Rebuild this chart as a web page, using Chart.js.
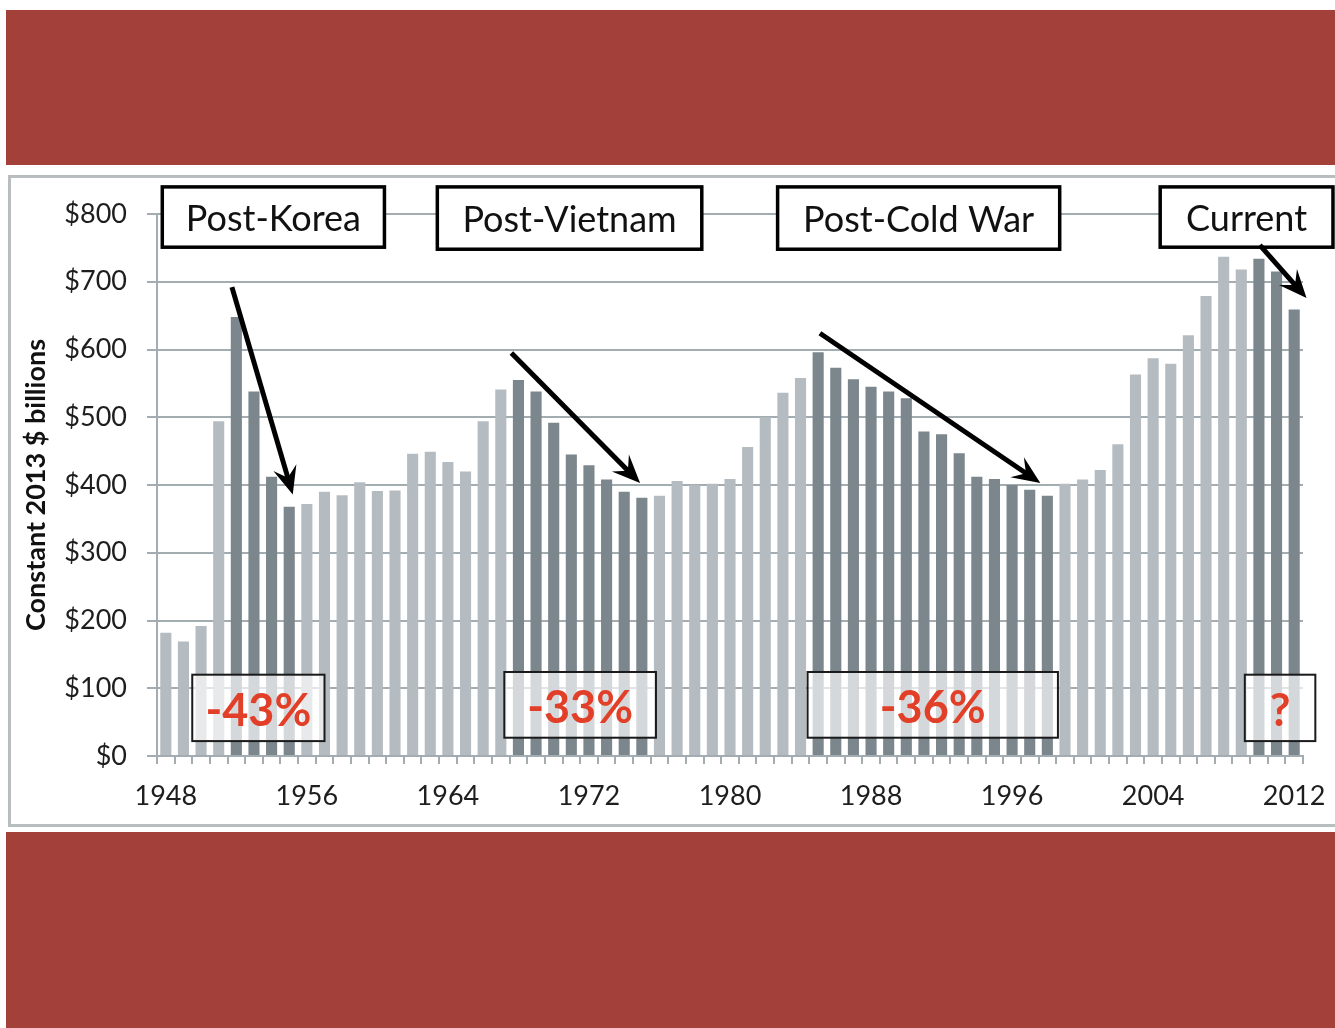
<!DOCTYPE html>
<html>
<head>
<meta charset="utf-8">
<title>Defense spending drawdowns</title>
<script src="https://cdn.jsdelivr.net/npm/chart.js@4"></script>
<style>
  html, body { margin: 0; padding: 0; background: #fff; }
  body { width: 1335px; height: 1028px; position: relative; overflow: hidden; }
  .band { position: absolute; left: 6px; right: 0; background: #a3403a; }
  .band.top { top: 10px; height: 155px; }
  .band.bottom { top: 832px; height: 196px; }
  .panel {
    position: absolute; left: 8px; top: 175px; width: 1340px; height: 646px;
    border: 3px solid #b8bdc0; background: #fff;
  }
  #chart { position: absolute; left: 0; top: 170px; }
</style>
</head>
<body>
<div class="band top"></div>
<div class="panel"></div>
<canvas id="chart" width="1335" height="660"></canvas>
<div class="band bottom"></div>

<script>
/* ================================
   Data (constant 2013 $ billions)
================================ */
const years = [
  '1948', '1949', '1950', '1951', '1952', '1953', '1954', '1955', '1956', '1957',
  '1958', '1959', '1960', '1961', '1962', '1963', '1964', '1965', '1966', '1967',
  '1968', '1969', '1970', '1971', '1972', '1973', '1974', '1975', '1976', '1977',
  '1978', '1979', '1980', '1981', '1982', '1983', '1984', '1985', '1986', '1987',
  '1988', '1989', '1990', '1991', '1992', '1993', '1994', '1995', '1996', '1997',
  '1998', '1999', '2000', '2001', '2002', '2003', '2004', '2005', '2006', '2007',
  '2008', '2009', '2010', '2011', '2012'
];

const spending = [
  182, 169, 192, 494, 648, 538, 412, 368, 372, 390,
  385, 404, 391, 392, 446, 449, 434, 420, 494, 541,
  555, 538, 492, 445, 429, 408, 390, 381, 384, 406,
  400, 402, 409, 456, 500, 536, 558, 596, 573, 556,
  545, 538, 528, 479, 475, 447, 412, 409, 400, 393,
  384, 402, 408, 422, 460, 563, 587, 579, 621, 679,
  737, 718, 734, 715, 659
];

// drawdown periods (dark bars)
const drawdownStart = [1952, 1968, 1985, 2010];
const drawdownEnd = [1955, 1975, 1998, 2012];
const periodLabels = ['Post-Korea', 'Post-Vietnam', 'Post-Cold War', 'Current'];
const cutLabels = ['-43%', '-33%', '-36%', '?'];

const yTicks = [0, 100, 200, 300, 400, 500, 600, 700, 800];
const labelEvery = 8;

/* ================================
   Styling
================================ */
const LIGHT = '#b4bcc1';
const DARK = '#7b868d';
const GRID = '#a3acb1';
const FONT = 'Lato, "Open Sans", sans-serif';

const barColors = years.map(y => {
  const yr = Number(y);
  const inDrawdown = drawdownStart.some((s, i) => yr >= s && yr <= drawdownEnd[i]);
  return inDrawdown ? DARK : LIGHT;
});

// annotation layout, in axis units (year, $ billions)
const periodBoxes = [
  { x0: 1947.8, x1: 1960.4, y0: 840, y1: 751 },
  { x0: 1963.4, x1: 1978.4, y0: 840, y1: 748 },
  { x0: 1982.7, x1: 1998.7, y0: 840, y1: 748 },
  { x0: 2004.4, x1: 2014.2, y0: 840, y1: 751 }
];
const cutBoxes = [
  { x0: 1949.5, x1: 1957.0, y0: 120, y1: 22 },
  { x0: 1967.2, x1: 1975.8, y0: 124, y1: 27 },
  { x0: 1984.4, x1: 1998.6, y0: 124, y1: 27 },
  { x0: 2009.2, x1: 2013.2, y0: 120, y1: 22 }
];
const arrows = [
  { from: [1951.75, 692], to: [1955.2, 386] },
  { from: [1967.6, 595], to: [1974.9, 403] },
  { from: [1985.1, 624], to: [1997.6, 403] },
  { from: [2010.05, 754], to: [2012.7, 676] }
];

/* ================================
   Annotation plugin
================================ */
function drawArrow(ctx, x1, y1, x2, y2) {
  const ang = Math.atan2(y2 - y1, x2 - x1);
  const head = 28, half = 12;
  ctx.save();
  ctx.strokeStyle = '#000';
  ctx.fillStyle = '#000';
  ctx.lineWidth = 5;
  ctx.lineCap = 'butt';
  ctx.beginPath();
  ctx.moveTo(x1, y1);
  ctx.lineTo(x2 - Math.cos(ang) * head * 0.6, y2 - Math.sin(ang) * head * 0.6);
  ctx.stroke();
  ctx.translate(x2, y2);
  ctx.rotate(ang);
  ctx.beginPath();
  ctx.moveTo(0, 0);
  ctx.lineTo(-head, -half);
  ctx.lineTo(-head * 0.62, 0);
  ctx.lineTo(-head, half);
  ctx.closePath();
  ctx.fill();
  ctx.restore();
}

const annotationPlugin = {
  id: 'drawdownNotes',
  afterDatasetsDraw(chart) {
    const { ctx, scales: { x, y } } = chart;
    const p0 = x.getPixelForValue(0);
    const step = x.getPixelForValue(1) - p0;
    const px = yr => p0 + (yr - Number(years[0])) * step;
    const py = v => y.getPixelForValue(v);

    ctx.save();
    ctx.textAlign = 'center';
    ctx.textBaseline = 'middle';

    // percent boxes
    cutBoxes.forEach((b, i) => {
      const l = px(b.x0), r = px(b.x1), t = py(b.y0), btm = py(b.y1);
      ctx.fillStyle = 'rgba(255,255,255,0.68)';
      ctx.fillRect(l, t, r - l, btm - t);
      ctx.strokeStyle = '#1a1a1a';
      ctx.lineWidth = 2;
      ctx.strokeRect(l, t, r - l, btm - t);
      ctx.fillStyle = '#e23f29';
      ctx.font = 'bold 45px ' + FONT;
      ctx.fillText(cutLabels[i], (l + r) / 2, (t + btm) / 2 + 4);
    });

    // period boxes
    periodBoxes.forEach((b, i) => {
      const l = px(b.x0), r = px(b.x1), t = py(b.y0), btm = py(b.y1);
      ctx.fillStyle = '#fff';
      ctx.fillRect(l, t, r - l, btm - t);
      ctx.strokeStyle = '#000';
      ctx.lineWidth = 3.5;
      ctx.strokeRect(l, t, r - l, btm - t);
      ctx.fillStyle = '#111';
      ctx.font = '36px ' + FONT;
      ctx.fillText(periodLabels[i], (l + r) / 2, (t + btm) / 2 + 2);
    });

    arrows.forEach(a => {
      drawArrow(ctx, px(a.from[0]), py(a.from[1]), px(a.to[0]), py(a.to[1]));
    });
    ctx.restore();
  }
};

/* ================================
   Chart
================================ */
new Chart(document.getElementById('chart').getContext('2d'), {
  type: 'bar',
  data: {
    labels: years,
    datasets: [{
      label: 'Defense spending',
      data: spending,
      backgroundColor: barColors,
      barPercentage: 0.63,
      categoryPercentage: 1
    }]
  },
  options: {
    responsive: false,
    animation: false,
    layout: { padding: { top: 44, right: 32, left: 0, bottom: 0 } },
    plugins: {
      legend: { display: false },
      tooltip: { enabled: false }
    },
    scales: {
      x: {
        afterFit: s => {
          s.height = 74;
          s.paddingLeft = 0;
          s.paddingRight = 0;
        },
        border: { display: true, color: GRID, width: 2 },
        grid: {
          offset: true,
          drawOnChartArea: false,
          drawTicks: true,
          tickLength: 8,
          color: GRID,
          lineWidth: 2
        },
        ticks: {
          autoSkip: false,
          maxRotation: 0,
          padding: 16,
          color: '#1e1e1e',
          font: { family: FONT, size: 27 },
          callback: (v, i) => (i % labelEvery === 0 ? years[i] : '')
        }
      },
      y: {
        min: yTicks[0],
        max: yTicks[yTicks.length - 1],
        afterFit: s => { s.width = 157; },
        afterBuildTicks: s => { s.ticks = yTicks.map(v => ({ value: v })); },
        border: { display: true, color: GRID, width: 2 },
        grid: { color: GRID, lineWidth: 2, tickLength: 10 },
        ticks: {
          padding: 20,
          color: '#1e1e1e',
          font: { family: FONT, size: 27 },
          callback: v => '$' + v
        },
        title: {
          display: true,
          text: 'Constant 2013 $ billions',
          color: '#111',
          font: { family: FONT, size: 27, weight: 'bold' },
          padding: { top: 20, bottom: 0 }
        }
      }
    }
  },
  plugins: [annotationPlugin]
});
</script>
</body>
</html>
